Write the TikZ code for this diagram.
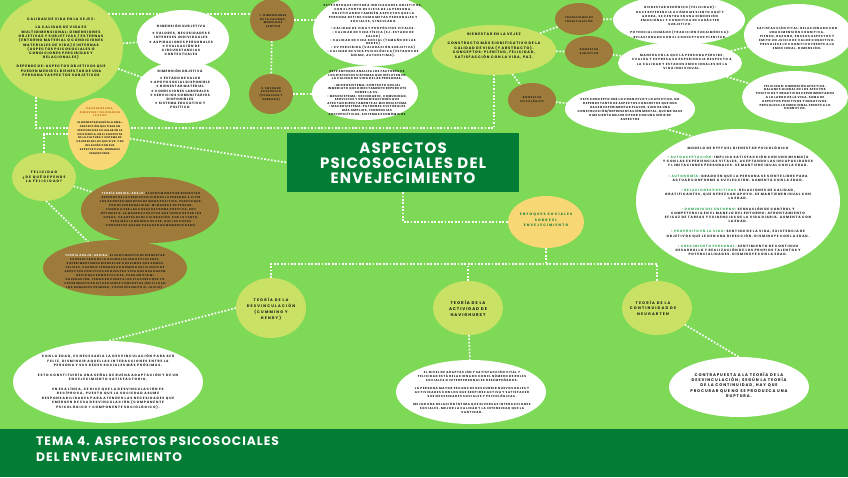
\documentclass[tikz,border=0pt]{standalone}
\usepackage{fontspec}
\setmainfont{Poppins}
\newfontfamily\fntT[LetterSpace=8]{Poppins}
\newfontfamily\fntS{DejaVu Sans}
\newcommand\fs[3]{\bfseries\fontsize{#1}{#2}\selectfont\addfontfeature{LetterSpace=#3}}
\usetikzlibrary{shapes.geometric}
\definecolor{bgg}{HTML}{7ED957}
\definecolor{dg}{HTML}{037D35}
\definecolor{yg}{HTML}{C9E265}
\definecolor{orng}{HTML}{F8D775}
\definecolor{brwn}{HTML}{9E7A3B}
\definecolor{ink}{HTML}{1A1A1A}
\definecolor{kg}{HTML}{2EA44F}
\definecolor{tg}{HTML}{1D7A3A}
\definecolor{ot}{HTML}{C2671F}
\newcommand\dia{{\fntS\fontsize{3}{3}\selectfont ❖}}
\pgfdeclarelayer{back}
\pgfdeclarelayer{lines}
\pgfsetlayers{back,lines,main}
\tikzset{
  dots/.style={draw=white, line width=1.7pt, dash pattern=on 1.7pt off 1.7pt},
  bub/.style={ellipse, inner sep=0pt, outer sep=0pt, draw=none},
  wb/.style={bub, fill=white},
  yb/.style={bub, fill=yg},
  ob/.style={bub, fill=orng},
  bb/.style={bub, fill=brwn},
  txt/.style={align=center, inner sep=0pt, text=ink},
}
\begin{document}
\begin{tikzpicture}[x=1pt,y=-1pt]
\useasboundingbox (0,0) rectangle (848,477);
\clip (0,0) rectangle (848,477);
\begin{pgfonlayer}{back}
\fill[bgg] (0,0) rectangle (848,477);
\fill[dg] (0,429) rectangle (848,477);
\end{pgfonlayer}

% ---------- left top cluster
\node[yb, minimum width=126pt, minimum height=106pt] (cal) at (60,48) {};
\node[txt, font=\fs{3.4}{4.3}{22}] (calt) at (61,47) {CALIDAD DE VIDA EN LA VEJEZ:\\[4.5pt]
LA CALIDAD DE VIDA ES\\ MULTIDIMENSIONAL: DIMENSIONES\\ OBJETIVAS Y SUBJETIVAS / EXTERNAS\\ (ENTORNO MATERIAL O CONDICIONES\\ MATERIALES DE VIDA) E INTERNAS\\ (ASPECTOS PSICOSOCIALES O\\ CONDICIONES PERCIBIDAS Y\\ RELACIONALES)\\[4.5pt]
DEPENDE DE: ASPECTOS OBJETIVOS QUE\\ PUEDEN MEDIR EL BIENESTAR DE UNA\\ PERSONA YASPECTOS SUBJETIVOS};

\node[wb, minimum width=92pt, minimum height=58pt] (dimsub) at (183,39) {};
\node[txt, font=\fs{3.2}{4.2}{22}] (dimsubt) at (181,40) {DIMENSIÓN SUBJETIVA\\[3pt]
\dia\ VALORES, NECESIDADES E\\ INTERESES INDIVIDUALES\\ \dia\ ASPIRACIONES PERSONALES\\ \dia\ EVALUACIÓN DE\\ CIRCUNSTANCIAS\\ CONTEXTUALES};

\node[wb, minimum width=94pt, minimum height=62pt] (dimobj) at (183,92) {};
\node[txt, font=\fs{3.2}{4.2}{20}] (dimobjt) at (180,89) {DIMENSIÓN OBJETIVA\\[3pt]
\dia\ ESTADO DE SALUD\\ \dia\ APOYO SOCIAL DISPONIBLE\\ \dia\ BIENESTAR MATERIAL\\ \dia\ CONDICIONES LABORALES\\ \dia\ SERVICIOS COMUNITARIOS\\ DISPONIBLES\\ \dia\ SISTEMA EDUCATIVO Y\\ POLÍTICO};

\node[ob, minimum width=62pt, minimum height=72pt] (cvbf) at (99,134) {};
\node[txt, font=\fs{2.5}{3.8}{15}] (cvbft) at (100,131) {\textcolor{ot}{CALIDAD DE VIDA,}\\ \textcolor{ot}{BIENESTAR Y FELICIDAD EN}\\ \textcolor{ot}{LA VEJEZ}\\[3pt]
EL BIENESTAR SEGÚN LA OMS{\fntS→}\\ PERCEPCIÓN QUE TIENE UN\\ INDIVIDUO DE SU LUGAR EN LA\\ EXISTENCIA, EN EL CONTEXTO\\ DE LA CULTURA Y SISTEMA DE\\ VALORES EN LOS QUE VIVE, Y EN\\ RELACIÓN CON SUS\\ EXPECTATIVAS, NORMAS E\\ INQUIETUDES.};

% ---------- Lawton / ecological
\node[bb, minimum width=44pt, minimum height=42pt] (lawton) at (272,20) {};
\node[txt, font=\fs{2.6}{3.8}{20}] (lawtont) at (273,21) {1. DIMENSIONES\\ DE LA CALIDAD,\\ MODELO DE\\ LAWTON};
\node[bb, minimum width=44pt, minimum height=40pt] (eco) at (271,94) {};
\node[txt, font=\fs{2.6}{3.8}{20}] (ecot) at (271,94) {2. ENFOQUE\\ ECOLÓGICO\\ (SCHALOCK Y\\ VERDUGO)};

\node[wb, minimum width=122pt, minimum height=72pt] (w7) at (374,30) {};
\node[txt, font=\fs{2.9}{3.9}{24}] (w7t) at (373,31) {ESTE ENFOQUE INTEGRA INDICADORES OBJETIVOS,\\ CON EL PUNTO DE VISTA DE LA PERSONA,\\ OBJETIVANDO TAMBIÉN ASPECTOS QUE LA\\ PERSONA DEFINE COMO METAS PERSONALES Y\\ SOCIALES, VINCULADO\\[3pt]
• CALIDAD DE VIDA Y PROPÓSITOS VITALES.\\ • CALIDAD DE VIDA FÍSICA (EJ. ESTADO DE\\ SALUD)\\ • CALIDAD DE VIDA SOCIAL (TAMAÑO DE LAS\\ REDES)\\ • CV PERCIBIDA (VALORACIÓN SUBJETIVA)\\ • CALIDAD DE VIDA PSICOLÓGICA (ESTADOS DE\\ ÁNIMO, AUTOESTIMA).};

\node[wb, minimum width=106pt, minimum height=54pt] (w8) at (365,93) {};
\node[txt, font=\fs{2.9}{3.6}{17}] (w8t) at (367,93) {ESTE ENFOQUE ANALIZA LOS FACTORES DE\\ LOS DISTINTOS SISTEMAS QUE INFLUYEN EN\\ LA CALIDAD DE VIDA DE LAS PERSONAS.\\[3pt]
- MICROSISTEMA: CONTEXTO SOCIAL\\ INMEDIATO QUE DIRECTAMENTE REPERCUTE\\ SOBRE LA CV.\\ - MESOSISTEMA: VECINDARIO, COMUNIDAD,\\ SERVICIOS Y ORGANIZACIONES QUE\\ AFECTAN DIRECTAMENTE AL MICROSISTEMA\\ - MACROSISTEMA: PATRONES CULTURALES\\ MÁS AMPLIOS, TENDENCIAS\\ SOCIOPOLÍTICAS, SISTEMAS ECONÓMICOS};

% ---------- title
\node[fill=dg, minimum width=232pt, minimum height=59pt, inner sep=0pt] (title) at (403,162.5) {};
\node[txt, text=white, font=\fntT\bfseries\fontsize{15}{15}\selectfont] (titlet) at (403,163) {ASPECTOS\\ PSICOSOCIALES DEL\\ ENVEJECIMIENTO};

% ---------- bienestar cluster
\node[yb, minimum width=124pt, minimum height=50pt] (bvej) at (494,50) {};
\node[txt, font=\fs{3.5}{4.8}{22}] (bvejt) at (494,46) {BIENESTAR EN LA VEJEZ\\[4pt]
CONSTRUCTO MÁS SIGNIFICATIVO DE LA\\ CALIDAD DE VIDA (Y ABSTRACTO).\\ CONCEPTOS: PLENITUD, FELICIDAD,\\ SATISFACCIÓN CON LA VIDA, PAZ.};

\node[bb, minimum width=48pt, minimum height=32pt] (trad) at (579,19) {};
\node[txt, font=\fs{2.5}{3.8}{24}] (tradt) at (579,20) {TRADICIONES DE\\ INVESTIGACIÓN};
\node[bb, minimum width=48pt, minimum height=32pt] (subj) at (589,52) {};
\node[txt, font=\fs{2.5}{3.8}{24}] (subjt) at (589,52) {BIENESTAR\\ SUBJETIVO};
\node[bb, minimum width=48pt, minimum height=34pt] (psic) at (532,100) {};
\node[txt, font=\fs{2.5}{3.8}{24}] (psict) at (532,100) {BIENESTAR\\ PSICOLÓGICO};

\node[wb, minimum width=132pt, minimum height=50pt] (hed) at (679,20) {};
\node[txt, font=\fs{2.9}{4.2}{25}] (hedt) at (680,22) {BIENESTAR HEDÓNICO (FELICIDAD):\\ HACE REFERENCIA A CÓMO ME SIENTO AQUÍ Y\\ AHORA, SE CENTRA EN UNA DIMENSIÓN\\ EMOCIONAL Y COGNITIVA DE CARÁCTER\\ SUBJETIVO.\\[4pt]
POTENCIAL HUMANO (TRADICIÓN EUDAIMÓNICA):\\ RELACIONADO CON EL CONCEPTO DE PLENITUD.};

\node[wb, minimum width=124pt, minimum height=42pt] (man) at (680,63) {};
\node[txt, font=\fs{3.0}{4.3}{26}] (mant) at (682,62) {MANERA EN LA QUE LA PERSONA PERCIBE,\\ EVALÚA Y EXPRESA SU EXPERIENCIA RESPECTO A\\ LA CALIDAD Y ESTADOS EMOCIONALES DE LA\\ VIDA INDIVIDUAL.};

\node[wb, minimum width=130pt, minimum height=48pt] (w15) at (630,109) {};
\node[txt, font=\fs{2.9}{4.0}{17}] (w15t) at (630,109) {ESTE CONCEPTO UNE LO COGNITIVO Y LO AFECTIVO, NO\\ DEPENDE TANTO DE ASPECTOS CONCRETOS QUE NOS\\ HACEN EXPERIMENTAR PLACER, SINO DE UNA\\ CONSTRUCCIÓN/REPRESENTACIÓN MENTAL, QUE ME HACE\\ O ME SIENTO MEJOR O PEOR CON UNA SERIE DE\\ ASPECTOS};

\node[wb, minimum width=108pt, minimum height=62pt] (sat) at (798,35) {};
\node[txt, font=\fs{2.9}{3.9}{22}] (satt) at (797,38) {SATISFACCIÓN VITAL: RELACIONADO CON\\ UNA DIMENSIÓN COGNITIVA.\\ PIENSO, RAZONO, EN ESOS ASPECTOS Y\\ EMITO UN JUICIO DE VALOR COGNITIVO.\\ PREVALECE LO COGNITIVO FRENTE A LO\\ EMOCIONAL. DIMENSIÓN.};

\node[wb, minimum width=106pt, minimum height=52pt] (fel2) at (795,97) {};
\node[txt, font=\fs{2.9}{3.8}{17}] (fel2t) at (795,97) {FELICIDAD: DIMENSIÓN AFECTIVA.\\ BALANCE GLOBAL DE LOS AFECTOS\\ POSITIVOS Y NEGATIVOS EXPERIMENTADOS\\ A LO LARGO DE LA VIDA. SUMA DE\\ ASPECTOS POSITIVOS Y NEGATIVOS.\\ PREVALECE LO EMOCIONAL FRENTE A LO\\ COGNITIVO.};

\node[wb, minimum width=204pt, minimum height=144pt] (ryff) at (738,201) {};
\node[txt, font=\fs{3.2}{4.2}{25}] (ryfft) at (738,201) {MODELO DE RYFF DEL BIENESTAR PSICOLÓGICO\\[5pt]
\textcolor{kg}{• AUTOACEPTACIÓN:} IMPLICA SATISFACCIÓN CON UNO MISMO/A\\ Y CON LAS EXPERIENCIAS VITALES, ACEPTANDO LAS INCAPACIDADES\\ Y LIMITACIONES PERSONALES. SE MANTIENE IGUAL CON LA EDAD.\\[6pt]
\textcolor{kg}{• AUTONOMÍA:} GRADO EN QUE LA PERSONA SE SIENTE LIBRE PARA\\ ACTUAR CONFORME A SU ELECCIÓN. AUMENTA CON LA EDAD.\\[6pt]
\textcolor{kg}{• RELACIONES POSITIVAS:} RELACIONES DE CALIDAD,\\ GRATIFICANTES, QUE OFREZCAN APOYO. SE MANTIENEN IGUAL CON\\ LA EDAD.\\[6pt]
\textcolor{kg}{• DOMINIO DEL ENTORNO:} SENSACIÓN DE CONTROL Y\\ COMPETENCIA EN EL MANEJO DEL ENTORNO; AFRONTAMIENTO\\ EFICAZ DE TAREAS Y EXIGENCIAS DE LA VIDA DIARIA. AUMENTA CON\\ LA EDAD.\\[6pt]
\textcolor{kg}{• PROPÓSITO EN LA VIDA:} SENTIDO DE LA VIDA, EXISTENCIA DE\\ OBJETIVOS QUE LE DEN UNA DIRECCIÓN. DISMINUYE CON LA EDAD.\\[6pt]
\textcolor{kg}{• CRECIMIENTO PERSONAL:} SENTIMIENTO DE CONTINUO\\ DESARROLLO Y REALIZACIÓN DE LOS PROPIOS TALENTOS Y\\ POTENCIALIDADES. DISMINUYE CON LA EDAD.};

% ---------- felicidad cluster
\node[yb, minimum width=64pt, minimum height=48pt] (fel) at (44,177) {};
\node[txt, font=\fs{3.4}{4.6}{32}] (felt) at (44,177) {FELICIDAD\\ ¿DE QUÉ DEPENDE\\ LA FELICIDAD?};

\node[bb, minimum width=138pt, minimum height=66pt] (arr) at (150,210) {};
\node[txt, font=\fs{2.7}{4.0}{22}] (arrt) at (151,209) {\textcolor{white}{TEORÍA ARRIBA-ABAJO:} EL SENTIMIENTO DE BIENESTAR\\ DEPENDE DE LA PREDISPOSICIÓN DE LA PERSONA A VIVIR\\ LOS ACONTECIMIENTOS DE MODO POSITIVO, PUESTO QUE,\\ POR MI PERSONALIDAD, MI MANERA DE PENSAR,\\ TIENDO A VER LAS COSAS DE FORMA POSITIVA, SOY\\ OPTIMISTA. LA MANERA POSITIVA QUE TENGO DE VER LAS\\ COSAS, VA ANTES DE MI VALORACIÓN. POR LO TANTO,\\ PESA MÁS LA MANERA DE VER, QUE LAS COSAS\\ CONCRETAS QUE ME PASAN EN UN MOMENTO DADO.};

\node[bb, minimum width=144pt, minimum height=56pt] (abj) at (115,268) {};
\node[txt, font=\fs{2.7}{4.0}{23}] (abjt) at (115,271) {\textcolor{white}{TEORÍA ABAJO-ARRIBA:} EL SENTIMIENTO DE BIENESTAR\\ ES RESULTADO DE LA ACUMULACIÓN DE PLACERES.\\ EXPERIMENTAMOS BIENESTAR O DECIMOS QUE SOMOS\\ FELICES, CUANDO TENEMOS UN NÚMERO SUFICIENTE DE\\ ASPECTOS POSITIVOS EN NUESTRA VIDA QUE NOS HACEN\\ DECIR QUE SOMOS FELICES. PARA EMITIR MI\\ VALORACIÓN, TENGO EN CUENTA LOS PLACERES QUE YO\\ EXPERIMENTO EN SITUACIONES CONCRETAS (ME FIJO EN\\ LOS DOMINIOS PRIMERO, Y DESPUÉS EMITO EL JUICIO).};

% ---------- enfoques sociales
\node[ob, minimum width=76pt, minimum height=52pt] (enf) at (546,222) {};
\node[txt, text=tg, font=\fs{3.4}{5.5}{34}] (enft) at (546,220) {ENFOQUES SOCIALES\\ SOBRE EL\\ ENVEJECIMIENTO};

\node[yb, minimum width=70pt, minimum height=60pt] (desv) at (271,308) {};
\node[txt, font=\fs{3.7}{5.8}{32}] (desvt) at (271,309) {TEORÍA DE LA\\ DESVINCULACIÓN\\ (CUMMING Y\\ HENRY)};
\node[yb, minimum width=70pt, minimum height=54pt] (act) at (468,308) {};
\node[txt, font=\fs{4.0}{6}{24}] (actt) at (468,309) {TEORÍA DE LA\\ ACTIVIDAD DE\\ HAVIGHURST};
\node[yb, minimum width=70pt, minimum height=54pt] (cont) at (657,308) {};
\node[txt, font=\fs{3.7}{5.6}{32}] (contt) at (653,308) {TEORÍA DE LA\\ CONTINUIDAD DE\\ NEUGARTEN};

\node[wb, minimum width=190pt, minimum height=82pt] (w26) at (108,382) {};
\node[txt, font=\fs{3.2}{4.5}{27}] (w26t) at (108,382) {CON LA EDAD, ES NECESARIA LA DESVINCULACIÓN PARA SER\\ FELIZ, DISMINUIR AQUELLAS INTERACCIONES ENTRE LA\\ PERSONA Y SUS REDES SOCIALES MÁS PRÓXIMAS.\\[5pt]
ESTO CONSTITUIRÍA UNA SEÑAL DE BUENA ADAPTACIÓN Y DE UN\\ ENVEJECIMIENTO SATISFACTORIO.\\[5pt]
EN ESA LÍNEA, SE DICE QUE LA DESVINCULACIÓN ES\\ RECÍPROCA, PUESTO QUE LA SOCIEDAD ASUME\\ RESPONSABILIDADES PARA ATENDER LAS NECESIDADES QUE\\ EMERGEN DE ESA DESVINCULACIÓN (COMPONENTE\\ PSICOLÓGICO + COMPONENTE SOCIOLÓGICO).};

\node[wb, minimum width=150pt, minimum height=64pt] (w27) at (471,392) {};
\node[txt, font=\fs{2.9}{4.0}{22}] (w27t) at (472,392) {EL NIVEL DE ADAPTACIÓN Y SATISFACCIÓN VITAL Y\\ FELICIDAD ESTÁ RELACIONADO CON EL NÚMERO DE ROLES\\ SOCIALES O INTERPERSONALES DESEMPEÑADOS.\\[4pt]
LA PERSONA MAYOR ESCOGE DE DESCUBRIR NUEVOS ROLES Y\\ ACTIVIDADES CON LOS QUE SENTIRSE ACTIVA Y SATISFACER\\ SUS NECESIDADES SOCIALES Y PSICOLÓGICAS.\\[4pt]
MEJOR UNA RELACIÓN ÍNTIMA QUE DIVERSAS INTERACCIONES\\ SOCIALES, MEJOR LA CALIDAD Y LA INTENSIDAD QUE LA\\ CANTIDAD.};

\node[wb, minimum width=140pt, minimum height=60pt] (w28) at (739,387) {};
\node[txt, font=\fs{3.9}{5.2}{23}] (w28t) at (739,385) {CONTRAPUESTA A LA TEORÍA DE LA\\ DESVINCULACIÓN; SEGÚN LA TEORÍA\\ DE LA CONTINUIDAD, HAY QUE\\ PROCURAR QUE NO SE PRODUZCA UNA\\ RUPTURA.};

% ---------- footer
\node[anchor=west, align=left, inner sep=0pt, text=white, font=\fntT\bfseries\fontsize{12.3}{16.5}\selectfont] (tema) at (36,449) {TEMA 4. ASPECTOS PSICOSOCIALES\\ DEL ENVEJECIMIENTO};

% ---------- connectors
\coordinate (j1) at (0,128);
\coordinate (bus) at (0,264);
\begin{pgfonlayer}{lines}
\draw[dots] (cal.35) -- (cal.35 -| lawton.center);
\draw[dots] (cal) -- (dimsub);
\draw[dots] (cal) -- (dimobj);
\draw[dots] (cal.244) -- (cal.244 |- j1) -| (bvej.south);
\draw[dots] (cvbf.west) -| (fel.north);
\draw[dots] (cvbf) -- (title.west);
\draw[dots] (lawton.east) -- (lawton.east -| w7.center);
\draw[dots] (lawton) -- (eco);
\draw[dots] (eco.east) -- (eco.east -| w8.center);
\draw[dots] (bvej) -- (trad);
\draw[dots] (bvej) -- (subj);
\draw[dots] (bvej) -- (psic);
\draw[dots] (trad) -- (hed);
\draw[dots] (subj) -- (man);
\draw[dots] (psic) -- (w15);
\draw[dots] (man) -- (sat);
\draw[dots] (man) -- (fel2);
\draw[dots] (w15.-29) -- (ryff.125);
\draw[dots] (title.south) |- (enf.west);
\draw[dots] (enf.south) -- (enf.south |- bus);
\draw[dots] (desv.north) -- (desv.north |- bus) -- (cont.north |- bus) -- (cont.north);
\draw[dots] (act.north) -- (act.north |- bus);
\draw[dots] (desv.west) -- (w26.north);
\draw[dots] (act) -- (w27);
\draw[dots] (cont) -- (w28.north);
\draw[dots] (fel) -- (arr);
\draw[dots] (fel.-85) -- (abj);
\end{pgfonlayer}
\end{tikzpicture}
\end{document}
